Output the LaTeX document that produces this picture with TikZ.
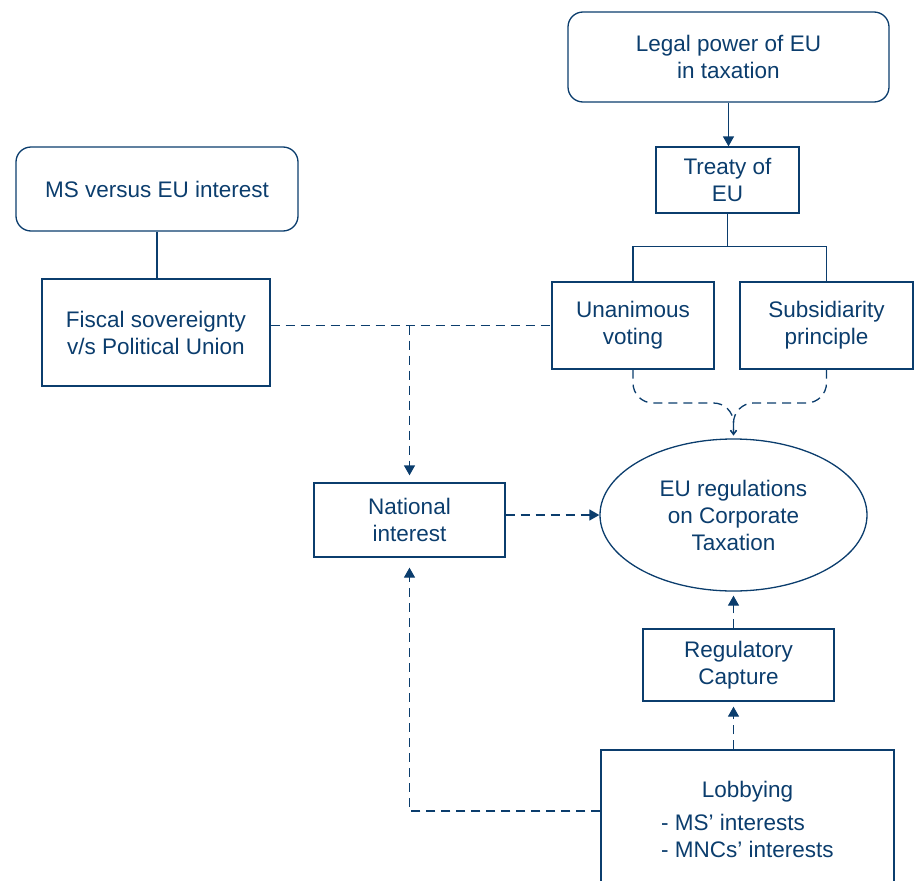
\documentclass[tikz,border=0pt]{standalone}
\usepackage{fontspec}
\setmainfont{Liberation Sans}
\usetikzlibrary{shapes.geometric,arrows.meta}
\definecolor{eublue}{HTML}{0B3D6D}

\begin{document}
\begin{tikzpicture}[x=1pt, y=-1pt,
  every node/.style = {draw=eublue, text=eublue, line width=1.3pt,
  align=center, inner sep=0pt, font=\fontsize{22.5}{27}\selectfont},
  box/.style = {shape=rectangle},
  softbox/.style = {shape=rectangle, rounded corners=15pt},
  link/.style = {draw=eublue, line width=1.3pt},
  dashlink/.style = {link, dash pattern=on 9pt off 6pt},
  tip/.style = {-{Triangle[width=11pt,length=10pt]}}]
  \useasboundingbox (0,0) rectangle (914,881);
  % legal side
  \node[softbox, minimum width=321pt, minimum height=90pt] (legal) at (728.5,57)
      {Legal power of EU\\in taxation};
  \node[box, minimum width=143pt, minimum height=66pt] (treaty) at (727.5,180)
      {Treaty of\\EU};
  \node[box, minimum width=162pt, minimum height=87pt] (unan) at (633,325.5)
      {Unanimous\\voting};
  \node[box, minimum width=173pt, minimum height=87pt] (subs) at (826.5,325.5)
      {Subsidiarity\\principle};
  % member states side
  \node[softbox, minimum width=282pt, minimum height=84pt] (ms) at (157,189)
      {MS versus EU interest};
  \node[box, minimum width=228pt, minimum height=107pt] (fiscal) at (156,332.5)
      {Fiscal sovereignty\\v/s Political Union};
  \node[box, minimum width=191pt, minimum height=74pt] (nat) at (409.5,520)
      {National\\interest};
  % regulations
  \node[shape=ellipse, minimum width=267pt, minimum height=152pt] (eu) at (733.5,515)
      {EU regulations\\on Corporate\\Taxation};
  \node[box, minimum width=191pt, minimum height=72pt] (reg) at (738.5,665)
      {Regulatory\\Capture};
  \node[box, minimum width=293pt, minimum height=146pt] (lobby) at (747.5,823)
      {Lobbying\\[6pt]\begin{tabular}[t]{@{}l@{}}- MS' interests\\- MNCs' interests\end{tabular}};

  \draw[link, tip] (legal.south) -- (legal.south |- treaty.north);
  \draw[link] (treaty.south) -- ++(0,33) -| (unan.north)
      (treaty.south) ++(0,33) -| (subs.north);
  \draw[link] (ms.south) -- (ms.south |- fiscal.north);
  % both principles feed the regulations
  \draw[dashlink, rounded corners=20pt, -{Straight Barb[length=4pt,width=6pt]},
      shorten >=3pt] (unan.south) |- (eu.north |- 0,403) -- (eu.north);
  \draw[dashlink, rounded corners=20pt, -{Straight Barb[length=4pt,width=6pt]},
      shorten >=3pt] (subs.south) |- (eu.north |- 0,403) -- (eu.north);
  \draw[dashlink] (fiscal.east |- unan.west) -- (unan.west);
  \draw[dashlink, tip, shorten >=7pt] (nat.north |- unan.west) -- (nat.north);
  \draw[dashlink, tip] (nat.east |- eu.west) -- (eu.west);
  \draw[dashlink, tip, shorten >=10pt] ([yshift=12pt]lobby.west) -| (nat.south);
  \draw[dashlink, tip, shorten >=5pt] (eu.south |- lobby.north) -- (eu.south |- reg.south);
  \draw[dashlink, tip, shorten >=4pt] (eu.south |- reg.north) -- (eu.south);
\end{tikzpicture}
\end{document}
